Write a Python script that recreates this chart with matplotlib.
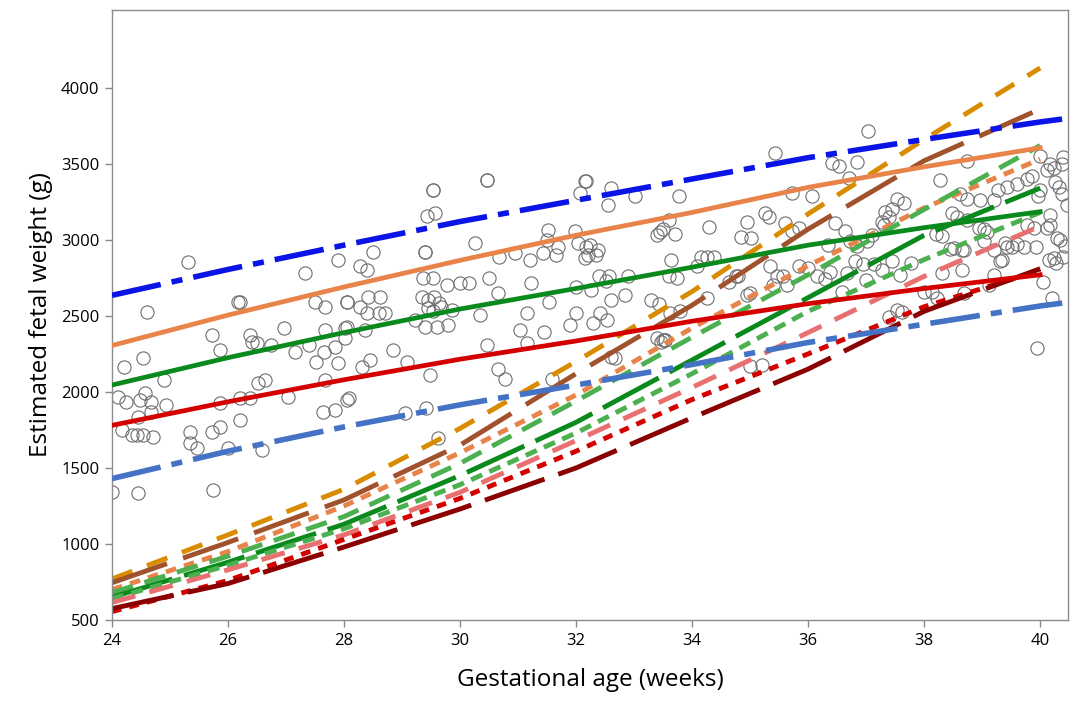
import numpy as np
import matplotlib
matplotlib.use("Agg")
import matplotlib.pyplot as plt

plt.rcParams['font.family'] = ['Open Sans', 'DejaVu Sans']

# ---- data -------------------------------------------------------------
# observed estimated fetal weight vs gestational age
ga_obs = [
    25.32, 24.60, 26.18, 27.33, 27.90, 27.50, 27.67, 28.05, 26.97, 27.67,
    28.02, 25.72, 25.86, 26.38, 26.41, 26.50, 26.75, 27.16, 27.39, 27.51,
    27.66, 27.84, 27.90, 28.02, 24.54, 24.20, 24.89, 24.11, 24.25, 24.48,
    24.57, 24.68, 24.45, 24.68, 24.94, 24.34, 24.43, 24.54, 24.71, 24.17,
    25.34, 25.34, 25.46, 25.72, 25.86, 26.21, 26.00, 26.52, 26.64, 27.04,
    26.21, 26.38, 25.86, 27.64, 27.84, 28.05, 26.58, 24.00, 24.45, 25.75,
    27.67, 26.20, 28.50, 29.40, 29.53, 30.46,
    30.46, 29.54, 32.15, 32.07, 29.43, 29.57, 29.40, 30.26, 31.52, 31.98,
    28.28, 28.40, 28.05, 28.42, 28.28, 28.40, 28.62, 28.60, 28.71, 28.05,
    28.37, 29.37, 29.54, 29.34, 29.45, 29.56, 29.64, 29.45, 29.53, 29.67,
    29.78, 29.86, 30.00, 30.15, 30.50, 30.68, 30.94, 31.20, 31.43, 31.66,
    31.69, 31.50, 32.15, 32.04, 32.18, 30.65, 30.34, 31.22, 31.53, 32.00,
    32.26, 29.23, 29.40, 29.60, 29.80, 31.15, 31.03, 31.44, 31.90, 32.00,
    31.15, 30.46, 28.85, 29.08, 28.31, 28.45, 30.65, 30.78, 29.48, 28.08,
    29.42, 29.05, 31.59, 29.62,
    35.43, 32.18, 32.61, 32.55, 33.02, 33.77, 35.72, 36.07, 36.41, 33.60,
    33.45, 33.40, 33.50, 33.70, 34.30, 34.95, 35.25, 35.32, 34.85, 35.02,
    35.60, 35.72, 35.84, 32.24, 32.37, 32.34, 32.20, 33.63, 34.15, 34.26,
    34.38, 34.08, 32.40, 32.57, 32.51, 32.90, 33.60, 33.74, 34.80, 32.85,
    32.60, 32.42, 32.53, 32.30, 33.30, 33.43, 33.62, 33.80, 34.26, 34.63,
    34.75, 35.00, 35.35, 35.47, 35.56, 35.40, 35.63, 35.84, 36.00, 36.15,
    33.39, 33.53, 33.47, 34.95, 35.00, 32.67, 32.60, 33.50, 33.54, 35.20,
    37.04, 36.53, 36.84, 36.70, 38.28, 38.74, 40.00, 40.17, 40.23, 40.12,
    39.86, 39.77, 39.60, 39.43, 39.28, 38.97, 38.74, 38.62, 38.48, 38.56,
    39.20, 39.97, 40.32, 40.38, 40.00, 40.17, 40.12, 39.89, 39.77, 40.17,
    39.72, 39.92, 40.29, 40.35, 40.43, 40.23, 40.40, 40.15, 39.60, 39.40,
    39.51, 39.20, 39.34, 39.03, 39.08, 38.94, 38.74, 38.30, 38.21, 38.51,
    38.66, 37.30, 37.39, 37.45, 37.53, 37.65, 37.33, 37.27, 37.10, 36.47,
    36.64, 36.35, 36.73, 36.84, 37.02, 36.81, 36.67, 36.38, 36.29, 36.58,
    36.95, 37.13, 37.00, 37.28, 37.45, 37.59, 37.77, 38.00, 38.13, 38.30,
    38.45, 38.68, 38.66, 39.03, 38.68, 39.20, 39.31, 39.43, 37.39, 37.62,
    37.53, 38.22, 39.11, 39.95, 40.40, 40.37, 40.25, 40.47, 40.28, 40.05,
    40.21
]
efw_obs = [
    2857, 2528, 2594, 2781, 2868, 2594, 2561, 2594, 2419, 2408,
    2419, 2375, 2276, 2375, 2331, 2320, 2309, 2265, 2309, 2199,
    2265, 2298, 2189, 2353, 2221, 2167, 2079, 1969, 1936, 1947,
    1991, 1936, 1838, 1870, 1914, 1717, 1717, 1717, 1706, 1750,
    1739, 1662, 1629, 1739, 1771, 1815, 1629, 2057, 2079, 1969,
    1958, 1960, 1925, 1870, 1881, 1947, 1618, 1342, 1333, 1355,
    2079, 2592, 2921, 2921, 3329, 3395,
    3395, 3329, 3384, 3307, 3154, 3175, 2923, 2978, 3066, 3055,
    2825, 2800, 2594, 2627, 2561, 2518, 2627, 2518, 2518, 2430,
    2408, 2748, 2748, 2627, 2605, 2627, 2584, 2550, 2530, 2560,
    2700, 2540, 2715, 2715, 2748, 2890, 2912, 2868, 2912, 2900,
    2956, 3000, 2879, 2978, 2956, 2649, 2507, 2715, 2594, 2692,
    2671, 2474, 2430, 2430, 2440, 2518, 2408, 2397, 2441, 2518,
    2320, 2309, 2276, 2199, 2167, 2210, 2152, 2086, 2108, 1958,
    1897, 1864, 2086, 1697,
    3570, 3384, 3340, 3230, 3285, 3285, 3307, 3285, 3504, 3132,
    3050, 3030, 3070, 3040, 3085, 3118, 3175, 3150, 3020, 3010,
    3110, 3055, 3080, 2967, 2930, 2900, 2900, 2868, 2890, 2890,
    2890, 2825, 2759, 2759, 2730, 2759, 2759, 2748, 2759, 2639,
    2605, 2518, 2474, 2450, 2605, 2580, 2518, 2530, 2617, 2720,
    2760, 2650, 2825, 2760, 2760, 2705, 2705, 2825, 2814, 2759,
    2353, 2340, 2330, 2636, 2171, 2221, 2230, 2342, 2340, 2178,
    3713, 3486, 3509, 3408, 3395, 3515, 3548, 3500, 3470, 3460,
    3420, 3400, 3370, 3350, 3330, 3263, 3270, 3300, 3176, 3150,
    3260, 3285, 3350, 3300, 3330, 3162, 3080, 3080, 3097, 3097,
    2956, 2956, 3010, 3000, 2960, 2880, 2890, 2870, 2970, 2980,
    2950, 2935, 2870, 3070, 3050, 3080, 3130, 3024, 3040, 2945,
    2930, 3100, 3150, 3200, 3270, 3240, 3180, 3120, 3030, 3110,
    3055, 2967, 2990, 2960, 2990, 2860, 2780, 2790, 2740, 2660,
    2840, 2840, 2735, 2800, 2860, 2770, 2850, 2660, 2660, 2780,
    2940, 2930, 2800, 2990, 2650, 2770, 2860, 2950, 2490, 2525,
    2540, 2620, 2700, 2287, 3546, 3500, 3380, 3230, 2850, 2720,
    2620
]

# fitted lines (linear in GA), read at 2-week steps
wk = [24, 26, 28, 30, 32, 34, 36, 38, 40]
wk_ext = [24, 26, 28, 30, 32, 34, 36, 38, 40, 40.5]
upper_dd = [2635, 2805, 2965, 3120, 3260, 3400, 3540, 3660, 3775, 3800]
fit_orange = [2305, 2505, 2690, 2865, 3030, 3180, 3345, 3480, 3605]
fit_green = [2045, 2225, 2390, 2545, 2680, 2820, 2965, 3080, 3185]
fit_red = [1780, 1935, 2080, 2215, 2335, 2465, 2580, 2680, 2770]
lower_dd = [1430, 1610, 1770, 1915, 2045, 2180, 2325, 2445, 2565, 2590]

# reference growth curves
ref_gold = [770, 1060, 1360, 1760, 2200, 2660, 3170, 3660, 4130]
ref_brown = [745, 1010, 1290, 1650, 2120, 2570, 3070, 3520, 3860]
ref_ltgreen_a = [680, 920, 1180, 1530, 1940, 2360, 2770, 3200, 3620]
ref_orange = [700, 950, 1250, 1600, 1980, 2420, 2830, 3210, 3530]
ref_dkgreen = [650, 880, 1130, 1450, 1800, 2210, 2620, 3030, 3340]
ref_ltgreen_b = [640, 860, 1100, 1390, 1730, 2120, 2530, 2870, 3180]
ref_salmon = [615, 830, 1060, 1340, 1680, 2030, 2390, 2760, 3090]
ref_dkred = [575, 740, 980, 1230, 1500, 1830, 2150, 2530, 2810]
ref_red = [555, 760, 1030, 1300, 1610, 1950, 2250, 2560, 2800]

# ---- plot -------------------------------------------------------------
fig = plt.figure(figsize=(10.76, 7.03), dpi=100)
ax = fig.add_axes([0.104, 0.118, 0.8886, 0.8682])

ax.plot(ga_obs, efw_obs, 'o', ms=9.5, mfc='none', mec='#6e6e6e', mew=0.8, zorder=1)

dd = (0, (9, 2, 2, 2))
ax.plot(wk_ext, upper_dd, color='#0a14e6', lw=4, linestyle=dd, zorder=3)
ax.plot(wk_ext, lower_dd, color='#4472c4', lw=4, linestyle=dd, zorder=3)
ax.plot(wk, fit_orange, color='#e8834a', lw=3.4, zorder=3)
ax.plot(wk, fit_green, color='#0a8a1c', lw=3.4, zorder=3)
ax.plot(wk, fit_red, color='#d40000', lw=3.4, zorder=3)

ax.plot(wk, ref_gold, color='#d98c00', lw=3.5, linestyle=(0, (4.5, 3.2)), zorder=2)
ax.plot(wk, ref_brown, color='#a0522d', lw=3.5, linestyle=(0, (12, 3.5)), zorder=2)
ax.plot(wk, ref_orange, color='#e8834a', lw=3.5, linestyle=(0, (2.2, 1.7)), zorder=2)
ax.plot(wk, ref_ltgreen_a, color='#4cb050', lw=3.5, linestyle=(0, (4.5, 2.5)), zorder=2)
ax.plot(wk, ref_dkgreen, color='#0a8a1c', lw=3.5, linestyle=(0, (13, 2.5)), zorder=2)
ax.plot(wk, ref_ltgreen_b, color='#4cb050', lw=3.5, linestyle=(0, (2.5, 1.6)), zorder=2)
ax.plot(wk, ref_salmon, color='#e87070', lw=3.5, linestyle=(0, (5, 3)), zorder=2)
ax.plot(wk, ref_red, color='#d40000', lw=3.5, linestyle=(0, (2, 1.7)), zorder=2)
ax.plot(wk, ref_dkred, color='#8b0000', lw=3.5, linestyle=(0, (13, 3)), zorder=2)

ax.set_xlim(24, 40.48)
ax.set_ylim(500, 4513)
ax.set_xticks(range(24, 41, 2))
ax.set_yticks(range(500, 4001, 500))
ax.tick_params(labelsize=12, color='#888888', length=5, width=1, pad=4)
for s in ax.spines.values():
    s.set_color('#8c8c8c')
    s.set_linewidth(1)

ax.set_xlabel('Gestational age (weeks)', fontsize=17.5, labelpad=14)
ax.set_ylabel('Estimated fetal weight (g)', fontsize=17.5, labelpad=6)

fig.savefig('out.png', dpi=100)
